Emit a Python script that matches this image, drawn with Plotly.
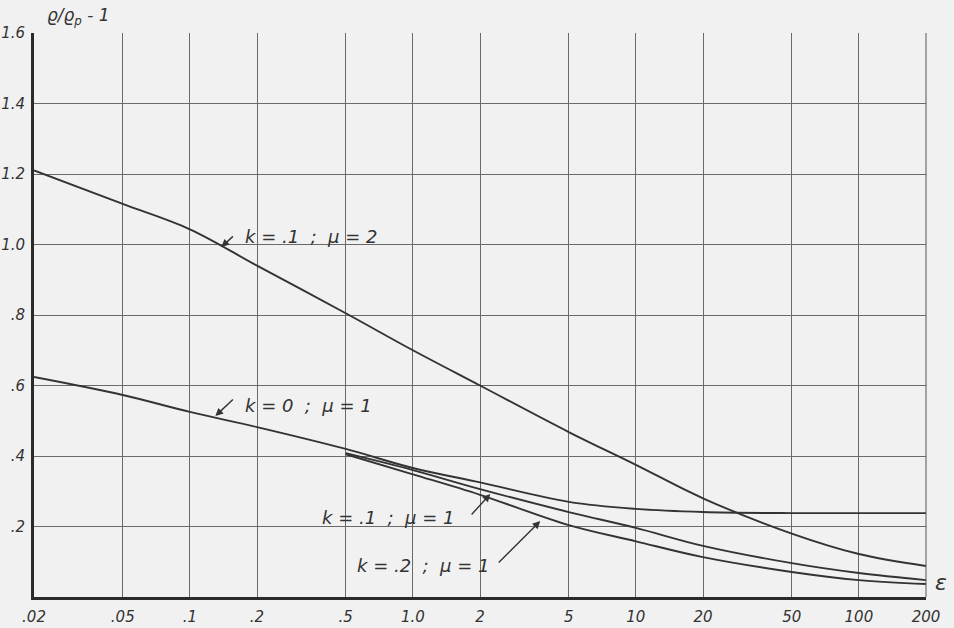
import plotly.graph_objects as go

# ---- data ----
x_all = [0.02, 0.05, 0.1, 0.2, 0.5, 1.0, 2, 5, 10, 20, 50, 100, 200]
y_k01_mu2 = [1.21, 1.115, 1.043, 0.94, 0.805, 0.70, 0.60, 0.468, 0.375, 0.28, 0.18, 0.122, 0.088]
y_k0_mu1 = [0.624, 0.573, 0.525, 0.482, 0.42, 0.366, 0.325, 0.27, 0.25, 0.241, 0.238, 0.238, 0.238]
x_part = [0.5, 1.0, 2, 5, 10, 20, 50, 100, 200]
y_k01_mu1 = [0.408, 0.36, 0.306, 0.241, 0.196, 0.145, 0.096, 0.068, 0.048]
y_k02_mu1 = [0.405, 0.348, 0.29, 0.204, 0.158, 0.113, 0.071, 0.048, 0.037]

x_tickvals = [0.02, 0.05, 0.1, 0.2, 0.5, 1.0, 2, 5, 10, 20, 50, 100, 200]
x_ticktext = [".02", ".05", ".1", ".2", ".5", "1.0", "2", "5", "10", "20", "50", "100", "200"]
y_tickvals = [0.2, 0.4, 0.6, 0.8, 1.0, 1.2, 1.4, 1.6]
y_ticktext = [".2", ".4", ".6", ".8", "1.0", "1.2", "1.4", "1.6"]

W, H = 954, 628
L, R, T, B = 33.5, 926, 33, 597

BG = "#f1f1f1"
INK = "#333333"
FONT = "DejaVu Sans"

fig = go.Figure()
line_style = dict(color=INK, width=1.9, shape="spline", smoothing=1.0)
for xs, ys in [(x_all, y_k01_mu2), (x_all, y_k0_mu1), (x_part, y_k01_mu1), (x_part, y_k02_mu1)]:
    fig.add_trace(go.Scatter(x=xs, y=ys, mode="lines", line=line_style,
                             showlegend=False, hoverinfo="skip"))

def px2paper(px, py):
    return (px - L) / (R - L), (B - py) / (B - T)

annots = []
def label(text, px, py, size=18):
    xp, yp = px2paper(px, py)
    annots.append(dict(x=xp, y=yp, xref="paper", yref="paper", text=text,
                       showarrow=False, xanchor="center", yanchor="middle",
                       font=dict(family=FONT, size=size, color=INK, style="italic")))

def arrow(hx, hy, tx, ty):
    xp, yp = px2paper(hx, hy)
    annots.append(dict(x=xp, y=yp, xref="paper", yref="paper", text="",
                       showarrow=True, ax=tx - hx, ay=ty - hy,
                       arrowhead=2, arrowsize=1.1, arrowwidth=1.4, arrowcolor=INK))

label("k = .1  ;  μ = 2", 311, 237)
arrow(221, 247, 234, 235)
label("k = 0  ;  μ = 1", 308, 405)
arrow(215, 416, 234, 398)
label("k = .1  ;  μ = 1", 388, 517)
arrow(490, 494, 470, 516)
label("k = .2  ;  μ = 1", 423, 565)
arrow(540, 521, 497, 564)
label("ε", 941, 582, size=22)
label("ϱ/ϱ<sub>p</sub> - 1", 78, 17, size=17)

shapes = [dict(type="line", xref="paper", yref="paper", x0=1, x1=1, y0=0, y1=1,
               line=dict(color="#555", width=1))]

fig.update_layout(
    width=W, height=H,
    margin=dict(l=L, r=W - R, t=T, b=H - B, pad=0, autoexpand=False),
    paper_bgcolor=BG, plot_bgcolor=BG,
    annotations=annots, shapes=shapes,
    font=dict(family=FONT, color=INK, style="italic"),
    xaxis=dict(type="log", range=[-1.69897, 2.30103], automargin=False,
               tickvals=x_tickvals, ticktext=x_ticktext,
               tickfont=dict(size=15, color=INK, style="italic"),
               showgrid=True, gridcolor="#6a6a6a", gridwidth=0.8,
               showline=True, linecolor="#2a2a2a", linewidth=3,
               ticks="", ticklabelstandoff=4, zeroline=False),
    yaxis=dict(range=[0, 1.6], automargin=False,
               tickvals=y_tickvals, ticktext=y_ticktext,
               tickfont=dict(size=15, color=INK, style="italic"),
               showgrid=True, gridcolor="#6a6a6a", gridwidth=0.8,
               showline=True, linecolor="#2a2a2a", linewidth=3,
               ticks="", ticklabelstandoff=3, zeroline=False),
)

fig.write_html("out.html")
